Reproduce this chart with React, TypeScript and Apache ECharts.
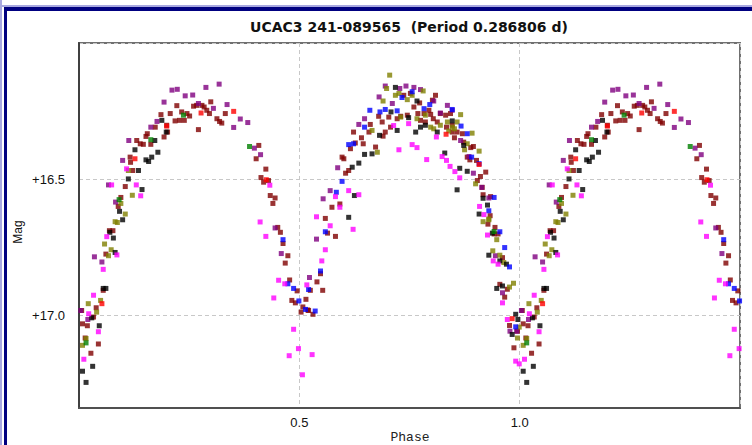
import React, { useEffect, useRef } from "react";
import * as echarts from "echarts";

type Pt = [number, number];

const titleText = "UCAC3 241-089565  (Period 0.286806 d)";
const xTickLabels = ["0.5", "1.0"];
const yTickLabels = ["+16.5", "+17.0"];

// [phase, magnitude] for one cycle (phase 0..1)
const maroonPts: Pt[] = [
  [0.222, 16.23], [0.26, 16.232], [0.267, 16.229], [0.279, 16.229], [0.284, 16.235], [0.299, 16.216],
  [0.186, 16.263], [0.207, 16.259], [0.233, 16.253], [0.245, 16.259], [0.251, 16.268], [0.218, 16.286],
  [0.228, 16.284], [0.239, 16.284], [0.29, 16.247], [0.296, 16.259], [0.313, 16.278], [0.319, 16.288],
  [0.324, 16.294], [0.332, 16.259], [0.271, 16.318], [0.199, 16.302], [0.201, 16.327], [0.193, 16.345],
  [0.173, 16.309], [0.155, 16.333], [0.152, 16.343], [0.131, 16.358], [0.139, 16.37], [0.146, 16.372],
  [0.163, 16.372], [0.116, 16.419], [0.117, 16.438], [0.122, 16.468], [0.105, 16.527], [0.095, 16.567],
  [0.089, 16.6], [0.408, 16.376], [0.402, 16.425], [0.424, 16.463], [0.413, 16.494], [0.419, 16.511],
  [0.43, 16.505], [0.434, 16.56], [0.445, 16.569], [0.44, 16.589],
  [0.069, 16.689], [0.077, 16.689], [0.061, 16.775], [0.055, 16.908], [0.039, 16.972], [0.033, 17.006],
  [0.008, 17.031], [0.019, 17.038], [0.044, 17.105], [0.027, 17.139], [0.014, 17.083],
  [0.451, 16.677], [0.457, 16.695], [0.463, 16.736], [0.474, 16.781], [0.468, 16.808], [0.478, 16.87],
  [0.495, 16.91], [0.483, 16.945], [0.491, 16.954], [0.515, 16.941], [0.508, 16.969], [0.504, 16.988],
  [0.521, 16.982],
  [0.737, 16.192], [0.752, 16.185], [0.809, 16.192], [0.802, 16.21], [0.76, 16.235], [0.773, 16.22],
  [0.769, 16.259], [0.783, 16.259], [0.794, 16.247], [0.798, 16.262], [0.82, 16.259], [0.832, 16.265],
  [0.843, 16.259], [0.745, 16.265], [0.73, 16.269], [0.722, 16.278], [0.703, 16.272], [0.688, 16.29],
  [0.68, 16.269], [0.661, 16.299], [0.658, 16.327], [0.641, 16.348], [0.645, 16.37], [0.627, 16.367],
  [0.616, 16.388], [0.601, 16.425], [0.597, 16.419], [0.605, 16.478], [0.612, 16.468], [0.623, 16.327],
  [0.673, 16.382], [0.695, 16.327], [0.707, 16.309], [0.69, 16.342], [0.775, 16.284], [0.786, 16.29],
  [0.804, 16.278], [0.813, 16.29], [0.834, 16.309], [0.847, 16.302], [0.858, 16.327], [0.87, 16.333],
  [0.847, 16.327], [0.852, 16.348], [0.873, 16.364], [0.889, 16.384], [0.895, 16.38], [0.881, 16.419],
  [0.887, 16.429], [0.902, 16.431], [0.923, 16.474], [0.911, 16.49], [0.904, 16.505], [0.915, 16.53],
  [0.934, 16.564], [0.917, 16.557], [0.592, 16.591], [0.574, 16.603], [0.559, 16.644],
  [0.564, 16.698], [0.582, 16.71], [0.548, 16.847], [0.54, 16.877], [0.525, 16.908], [0.553, 16.908],
  [0.519, 16.98], [0.531, 16.996], [0.933, 16.634], [0.928, 16.665], [0.944, 16.677], [0.951, 16.701],
  [0.942, 16.701], [0.961, 16.788], [0.955, 16.886], [0.972, 16.904], [0.966, 16.933], [0.006, 16.982],
  [0.977, 17.037], [0.995, 17.058], [0.987, 17.119],
];

const purplePts: Pt[] = [
  [0.211, 16.173], [0.223, 16.17], [0.288, 16.163], [0.318, 16.151], [0.241, 16.194], [0.258, 16.191],
  [0.193, 16.217], [0.336, 16.226], [0.305, 16.24], [0.366, 16.279], [0.383, 16.292], [0.351, 16.31],
  [0.177, 16.288], [0.163, 16.309], [0.113, 16.358], [0.099, 16.431], [0.067, 16.521], [0.083, 16.584],
  [0.398, 16.386], [0.412, 16.41], [0.271, 16.222], [0.035, 16.785], [0.052, 16.804], [0.004, 16.982],
  [0.02, 17.015], [0.445, 16.679], [0.459, 16.773], [0.523, 16.861], [0.695, 16.158], [0.728, 16.167],
  [0.742, 16.158], [0.76, 16.163], [0.775, 16.171], [0.681, 16.198], [0.711, 16.222], [0.648, 16.278],
  [0.635, 16.299], [0.587, 16.458], [0.554, 16.572], [0.57, 16.542], [0.805, 16.213], [0.836, 16.229],
  [0.847, 16.247], [0.866, 16.358], [0.885, 16.417], [0.895, 16.478], [0.914, 16.53], [0.93, 16.569],
  [0.82, 16.257], [0.539, 16.72], [0.945, 16.781], [0.961, 16.917], [0.978, 17.058], [0.993, 17.058],
];

const olivePts: Pt[] = [
  [0.112, 16.468], [0.121, 16.559], [0.095, 16.589], [0.105, 16.628], [0.087, 16.659], [0.082, 16.656],
  [0.058, 16.738], [0.073, 16.759], [0.067, 16.781], [0.021, 16.957], [0.049, 16.945], [0.04, 16.988],
  [0.016, 17.085], [0.008, 17.11], [0.705, 16.118], [0.698, 16.167], [0.69, 16.213], [0.718, 16.192],
  [0.726, 16.185], [0.745, 16.208], [0.756, 16.192], [0.781, 16.176], [0.665, 16.321], [0.677, 16.401],
  [0.73, 16.272], [0.767, 16.278], [0.786, 16.265], [0.798, 16.309], [0.805, 16.315], [0.82, 16.302],
  [0.836, 16.29], [0.847, 16.309], [0.866, 16.263], [0.858, 16.29], [0.839, 16.323], [0.852, 16.315],
  [0.892, 16.331], [0.881, 16.37], [0.875, 16.392], [0.908, 16.397], [0.9, 16.517], [0.93, 16.646],
  [0.917, 16.656], [0.93, 16.649], [0.948, 16.722], [0.939, 16.763], [0.955, 16.779], [0.964, 16.806],
  [0.986, 16.882], [0.977, 16.896], [0.999, 17.043], [0.995, 17.083],
];

const blackPts: Pt[] = [
  [0.188, 16.284], [0.198, 16.327], [0.172, 16.358], [0.127, 16.392], [0.179, 16.401], [0.165, 16.419],
  [0.152, 16.429], [0.158, 16.435], [0.135, 16.468], [0.112, 16.499], [0.143, 16.538], [0.092, 16.618],
  [0.099, 16.649], [0.078, 16.716], [0.07, 16.695], [0.055, 16.901], [0.061, 16.901], [0.046, 17.038],
  [0.029, 17.009], [0.031, 17.187], [0.008, 17.205], [0.016, 17.246], [0.082, 16.769], [0.718, 16.163],
  [0.708, 16.253], [0.767, 16.213], [0.748, 16.274], [0.722, 16.321], [0.682, 16.339], [0.665, 16.407],
  [0.648, 16.409], [0.62, 16.456], [0.635, 16.441], [0.764, 16.327], [0.775, 16.309], [0.786, 16.302],
  [0.813, 16.327], [0.847, 16.286], [0.873, 16.376], [0.83, 16.404], [0.864, 16.46], [0.858, 16.539],
  [0.881, 16.471], [0.917, 16.57], [0.927, 16.595], [0.908, 16.628], [0.612, 16.64], [0.625, 16.56],
  [0.938, 16.698], [0.93, 16.779], [0.955, 16.8], [0.97, 16.812], [0.948, 16.901], [0.961, 16.892],
  [0.991, 16.996], [0.996, 17.015], [0.983, 17.07],
];

const bluePts: Pt[] = [
  [0.463, 16.722], [0.474, 16.884], [0.487, 16.901], [0.499, 16.947], [0.514, 16.978], [0.756, 16.179],
  [0.733, 16.2], [0.796, 16.226], [0.783, 16.241], [0.66, 16.247], [0.683, 16.253], [0.695, 16.244],
  [0.722, 16.249], [0.648, 16.309], [0.612, 16.373], [0.623, 16.37], [0.597, 16.508], [0.584, 16.548],
  [0.847, 16.244], [0.867, 16.305], [0.881, 16.333], [0.891, 16.419], [0.908, 16.443], [0.942, 16.567],
  [0.93, 16.616], [0.559, 16.693], [0.548, 16.837], [0.521, 16.905], [0.536, 16.984], [0.955, 16.693],
  [0.966, 16.751], [0.977, 16.822], [0.991, 17.042],
];

const magentaPts: Pt[] = [
  [0.074, 16.521], [0.108, 16.462], [0.13, 16.521], [0.14, 16.561], [0.433, 16.522], [0.063, 16.711],
  [0.086, 16.778], [0.055, 16.831], [0.033, 16.926], [0.022, 16.994], [0.044, 17.06], [0.011, 17.161],
  [0.411, 16.657], [0.424, 16.71], [0.453, 16.871], [0.467, 16.884], [0.442, 16.936], [0.487, 17.051],
  [0.498, 17.122], [0.477, 17.148], [0.507, 17.218], [0.517, 16.888], [0.714, 16.303], [0.748, 16.296],
  [0.811, 16.345], [0.726, 16.392], [0.756, 16.373], [0.767, 16.384], [0.789, 16.428], [0.824, 16.417],
  [0.834, 16.431], [0.842, 16.453], [0.853, 16.472], [0.864, 16.495], [0.612, 16.542], [0.635, 16.557],
  [0.582, 16.564], [0.592, 16.603], [0.539, 16.638], [0.909, 16.6], [0.919, 16.63], [0.57, 16.671],
  [0.622, 16.684], [0.559, 16.759], [0.551, 16.8], [0.529, 17.144], [0.927, 16.705], [0.94, 16.8],
  [0.951, 16.812], [0.961, 16.954], [0.972, 17.015], [0.991, 17.168], [0.999, 17.178],
];

const redPts: Pt[] = [
  [0.127, 16.425], [0.199, 16.305], [0.277, 16.257], [0.351, 16.251], [0.425, 16.502], [0.052, 16.957],
  [0.833, 16.335], [0.908, 16.446], [0.983, 17.012],
];

const greenPts: Pt[] = [
  [0.237, 16.265], [0.163, 16.355], [0.387, 16.38], [0.091, 16.575], [0.016, 17.101], [0.942, 16.692],
];

const seriesDefs: { name: string; color: string; pts: Pt[] }[] = [
  { name: "maroon", color: "#800000", pts: maroonPts },
  { name: "purple", color: "#800080", pts: purplePts },
  { name: "olive", color: "#808000", pts: olivePts },
  { name: "black", color: "#000000", pts: blackPts },
  { name: "blue", color: "#0000ff", pts: bluePts },
  { name: "magenta", color: "#ff00ff", pts: magentaPts },
  { name: "red", color: "#ff0000", pts: redPts },
  { name: "green", color: "#008000", pts: greenPts },
];

// light curve is shown over 1.5 cycles: phases 0..0.5 are repeated at 1..1.5
const fold = (pts: Pt[]): Pt[] =>
  pts.concat(pts.filter((p) => p[0] < 0.5).map((p) => [p[0] + 1, p[1]] as Pt));

export default function App() {
  const ref = useRef<HTMLDivElement>(null);
  useEffect(() => {
    if (!ref.current) return;
    const chart = echarts.init(ref.current, undefined, { renderer: "svg" });
    const sans = "Liberation Sans, Arial, sans-serif";
    chart.setOption({
      animation: false,
      backgroundColor: "#ffffff",
      grid: {
        left: 79,
        right: 12,
        top: 43,
        bottom: 37,
        show: true,
        borderColor: "#707070",
        borderWidth: 2,
        backgroundColor: "transparent",
      },
      xAxis: {
        type: "value",
        min: 0,
        max: 1.5,
        interval: 0.5,
        axisLine: { show: true, lineStyle: { color: "#505050", width: 2 } },
        axisTick: { show: false },
        splitLine: { show: true, lineStyle: { color: "#c8c8c8", type: [4, 3], width: 1 } },
        axisLabel: {
          showMinLabel: false,
          showMaxLabel: false,
          margin: 8,
          fontSize: 13,
          fontFamily: sans,
          color: "#111",
          formatter: (v: number) => {
            const s = v.toFixed(1);
            return xTickLabels.includes(s) ? s : "";
          },
        },
      },
      yAxis: {
        type: "value",
        inverse: true,
        min: 16.0,
        max: 17.34,
        interval: 0.5,
        axisLine: { show: true, lineStyle: { color: "#404040", width: 2 } },
        axisTick: { show: false },
        splitLine: { show: true, lineStyle: { color: "#c8c8c8", type: [4, 3], width: 1 } },
        axisLabel: {
          showMinLabel: false,
          showMaxLabel: false,
          margin: 14,
          fontSize: 13,
          fontFamily: sans,
          color: "#111",
          formatter: (v: number) => {
            const s = "+" + v.toFixed(1);
            return yTickLabels.includes(s) ? s : "";
          },
        },
      },
      series: seriesDefs.map((d) => ({
        name: d.name,
        type: "scatter",
        symbol: "rect",
        symbolSize: 5,
        itemStyle: { color: d.color },
        data: fold(d.pts),
        z: 3,
      })),
      graphic: [
        { type: "rect", shape: { x: 0, y: 0, width: 2, height: 445 }, style: { fill: "#a8a8e0" }, silent: true },
        { type: "rect", shape: { x: 0, y: 5, width: 752, height: 2 }, style: { fill: "#a8a8e0" }, silent: true },
        { type: "rect", shape: { x: 4, y: 7, width: 748, height: 4 }, style: { fill: "#000080" }, silent: true },
        { type: "rect", shape: { x: 4, y: 7, width: 3, height: 438 }, style: { fill: "#000080" }, silent: true },
        {
          type: "text",
          x: 409,
          y: 27,
          style: {
            text: titleText,
            textAlign: "center",
            textVerticalAlign: "middle",
            font: "bold 14px DejaVu Sans, Verdana, sans-serif",
            fill: "#111",
          },
        },
        {
          type: "text",
          x: 18,
          y: 232,
          rotation: Math.PI / 2,
          style: {
            text: "Mag",
            textAlign: "center",
            textVerticalAlign: "middle",
            font: "12px Liberation Sans, Arial, sans-serif",
            fill: "#111",
          },
        },
        {
          type: "text",
          x: 410,
          y: 437,
          style: {
            text: "Phase",
            textAlign: "center",
            textVerticalAlign: "middle",
            font: "13px Liberation Mono, Courier New, monospace",
            fill: "#222",
          },
        },
      ],
    });
    return () => chart.dispose();
  }, []);
  return (
    <div
      ref={ref}
      style={{ position: "fixed", left: 0, top: 0, width: 752, height: 445 }}
    />
  );
}
